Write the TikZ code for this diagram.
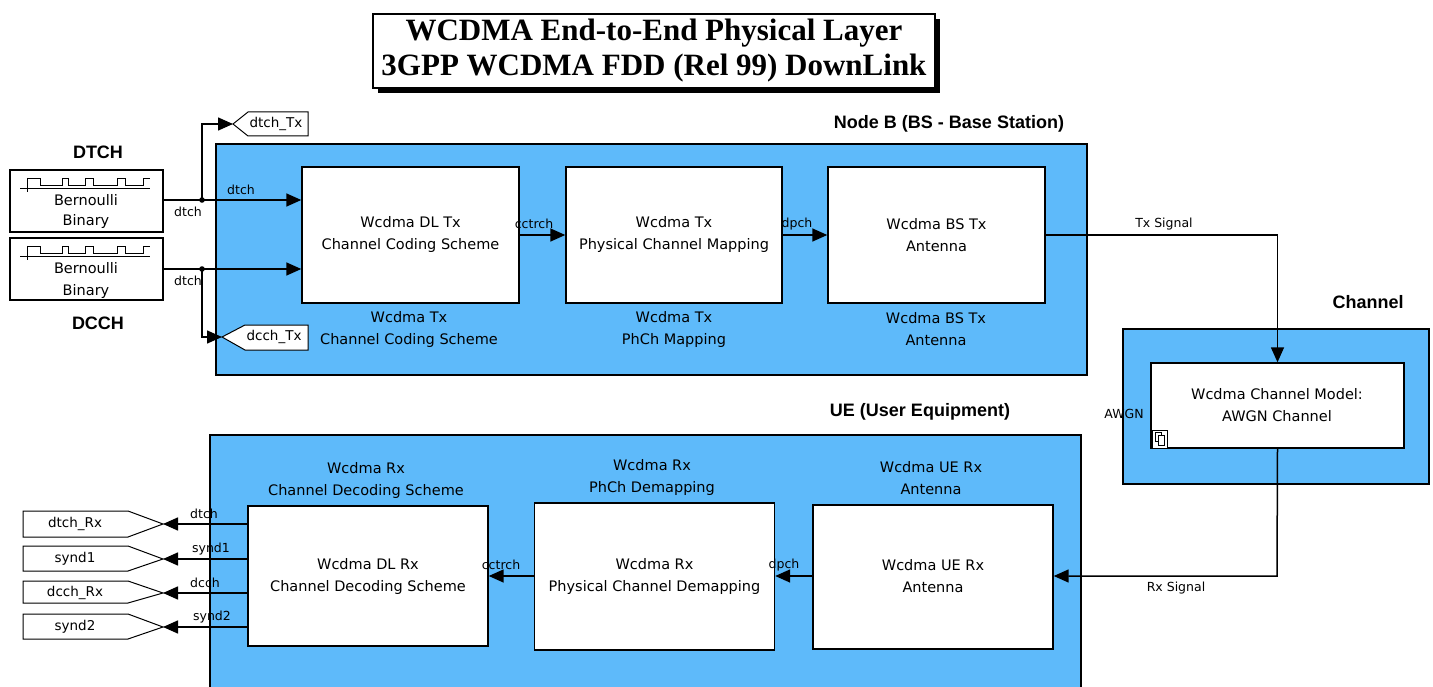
\documentclass[tikz,border=0pt]{standalone}
\usepackage{fontspec}
\setmainfont{DejaVu Sans}
\newfontfamily\hfont{Liberation Sans}
\newfontfamily\tfont{Liberation Serif}
\usetikzlibrary{arrows.meta}
\definecolor{blueB}{RGB}{94,186,250}
\begin{document}
\begin{tikzpicture}[x=1pt,y=-1pt,
  blk/.style={draw, fill=white, line width=1.4pt, inner sep=0pt},
  txt/.style={align=center, font=\fontsize{14.5}{22}\selectfont, inner sep=0pt},
  sml/.style={font=\fontsize{12.5}{14}\selectfont, inner sep=0pt},
  head/.style={font=\hfont\bfseries\fontsize{18}{20}\selectfont, inner sep=0pt},
  arr/.style={line width=1.5pt, -{Triangle[length=15pt,width=13pt]}},
  wire/.style={line width=1.5pt},
  region/.style={draw, fill=blueB, line width=1.4pt},
  tagshape/.style={draw, line width=1pt, fill=white},
  wave/.style={line width=1pt}]
\useasboundingbox (0,0) rectangle (1433,687);
\clip (0,0) rectangle (1433,687);

% ---------- title ----------
\fill[black] (378,19) rectangle (940,93);
\node[draw, fill=white, line width=1.4pt, minimum width=562pt, minimum height=74pt, inner sep=0pt] (title) at (654,51) {};
\node[font=\tfont\bfseries\fontsize{31}{35}\selectfont, align=center, inner sep=0pt] (titletxt) at (654,51) {WCDMA End-to-End Physical Layer\\3GPP WCDMA FDD (Rel 99) DownLink};

% ---------- region boxes ----------
\node[region, minimum width=871pt, minimum height=231pt, inner sep=0pt] (nodeB) at (651.5,259.5) {};
\node[region, minimum width=306pt, minimum height=155pt, inner sep=0pt] (chanreg) at (1276,406.5) {};
\node[region, minimum width=871pt, minimum height=270pt, inner sep=0pt] (uereg) at (645.5,570) {};

\node[head] (hNodeB) at (949,124) {Node B (BS - Base Station)};
\node[head] (hChan) at (1368,302) {Channel};
\node[head] (hUE) at (920,412) {UE (User Equipment)};
\node[head] (hDTCH) at (98,152) {DTCH};
\node[head] (hDCCH) at (98,323) {DCCH};

% ---------- sources ----------
\node[blk, minimum width=153pt, minimum height=62pt] (src1) at (86.5,201) {};
\node[blk, minimum width=153pt, minimum height=62pt] (src2) at (86.5,269) {};
\foreach \dy in {0,68}{
  \draw[wave, shift={(0,\dy)}] (20,189) -- (150,189);
  \draw[wave, shift={(0,\dy)}] (27,178) -- (27,192);
  \draw[wave, shift={(0,\dy)}] (27,179) -- (40,179) -- (40,186) -- (62,186) -- (62,179) -- (68,179) -- (68,186) -- (85,186) -- (85,179) -- (93,179) -- (93,186) -- (117,186) -- (117,179) -- (125,179) -- (125,186) -- (143,186) -- (143,179) -- (150,179);
}
\node[txt] (src1a) at (86,200) {Bernoulli};
\node[txt] (src1b) at (86,222) {Binary};
\node[txt] (src2a) at (86,268) {Bernoulli};
\node[txt] (src2b) at (86,291) {Binary};

% ---------- Tx blocks ----------
\node[blk, minimum width=217pt, minimum height=136pt] (cod) at (410.5,235) {};
\node[txt] (codt) at (410.5,235) {Wcdma DL Tx\\Channel Coding Scheme};
\node[txt] (codl) at (409,329) {Wcdma Tx\\Channel Coding Scheme};

\node[blk, minimum width=216pt, minimum height=136pt] (map) at (674,235) {};
\node[txt] (mapt) at (674,235) {Wcdma Tx\\Physical Channel Mapping};
\node[txt] (mapl) at (674,329) {Wcdma Tx\\PhCh Mapping};

\node[blk, minimum width=217pt, minimum height=136pt] (ant) at (936.5,235) {};
\node[txt] (antt) at (936.5,235) {Wcdma BS Tx\\Antenna};
\node[txt] (antl) at (936,329) {Wcdma BS Tx\\Antenna};

% ---------- goto tags (Tx) ----------
\coordinate (dtxtip) at (233,124);
\draw[tagshape] (dtxtip) -- (248,112) -- (308,112) -- (308,136) -- (248,136) -- cycle;
\node[txt, font=\fontsize{13.5}{16}\selectfont] (dtchTx) at (276,124) {dtch\_Tx};
\coordinate (dcxtip) at (222,337);
\draw[tagshape] (dcxtip) -- (245,325) -- (308,325) -- (308,350) -- (245,350) -- cycle;
\node[txt, font=\fontsize{13.5}{16}\selectfont] (dcchTx) at (274,337) {dcch\_Tx};

% ---------- Tx wiring ----------
\coordinate (j1) at (202,200);
\coordinate (j2) at (202,269);
\draw[arr] (src1.east |- j1) -- (cod.west |- j1);
\draw[arr] (src2.east |- j2) -- (cod.west |- j2);
\draw[arr] (j1) |- (dtxtip);
\draw[arr] (j2) |- (dcxtip);
\fill (j1) circle (2.8pt);
\fill (j2) circle (2.8pt);
\node[sml] (l1) at (241,190) {dtch};
\node[sml] (l2) at (188,212) {dtch};
\node[sml] (l3) at (188,281) {dtch};

\draw[arr] (cod.east) -- (map.west);
\node[sml] (l4) at (534,224) {cctrch};
\draw[arr] (map.east) -- (ant.west);
\node[sml] (l5) at (797,224) {dpch};

% ---------- channel ----------
\node[blk, minimum width=253pt, minimum height=85pt] (awgn) at (1277.5,405.5) {};
\node[txt] (awgnt) at (1277,405.5) {Wcdma Channel Model:\\AWGN Channel};
\node[sml] (awgnl) at (1124,414) {AWGN};
\node[draw, line width=0.8pt, fill=white, minimum width=15pt, minimum height=18pt, inner sep=0pt] (icon) at (1159.5,439) {};
\draw[line width=0.7pt] (1155,432) rectangle (1161,441);
\draw[line width=0.7pt, fill=white] (1158,435) rectangle (1164,445);

\draw[arr] (ant.east) -| (awgn.north);
\node[sml] (l6) at (1164,224) {Tx Signal};

% ---------- Rx blocks ----------
\node[blk, minimum width=240pt, minimum height=140pt] (dec) at (368,576) {};
\node[txt] (dect) at (368,576) {Wcdma DL Rx\\Channel Decoding Scheme};
\node[txt] (decl) at (366,480) {Wcdma Rx\\Channel Decoding Scheme};

\node[blk, minimum width=240pt, minimum height=147pt] (dmap) at (654.5,576.5) {};
\node[txt] (dmapt) at (654.5,576) {Wcdma Rx\\Physical Channel Demapping};
\node[txt] (dmapl) at (652,477) {Wcdma Rx\\PhCh Demapping};

\node[blk, minimum width=240pt, minimum height=144pt] (uant) at (933,577) {};
\node[txt] (uantt) at (933,576) {Wcdma UE Rx\\Antenna};
\node[txt] (uantl) at (931,478) {Wcdma UE Rx\\Antenna};

\coordinate (rxc) at (1277,576);
\draw[arr] (awgn.south) -- (rxc) -- (uant.east |- rxc);
\node[sml] (l7) at (1176,588) {Rx Signal};

\draw[arr] (uant.west |- rxc) -- (dmap.east |- rxc);
\node[sml] (l8) at (784,565) {dpch};
\draw[arr] (dmap.west |- rxc) -- (dec.east |- rxc);
\node[sml] (l9) at (501,565) {cctrch};

% ---------- goto tags (Rx) ----------
\foreach \n/\yt/\yb/\yc/\lab/\wl/\ll in {
   a/511/537/524/dtch\_Rx/dtch/204,
   b/546/571/559/synd1/synd1/211,
   c/581/603/593/dcch\_Rx/dcch/205,
   d/614/639/627/synd2/synd2/212}{
  \coordinate (rt\n) at (163,\yc);
  \draw[tagshape] (rt\n) -- (128,\yt) -- (23,\yt) -- (23,\yb) -- (128,\yb) -- cycle;
  \node[txt, font=\fontsize{13.5}{16}\selectfont] (rl\n) at (75,\yc) {\lab};
  \coordinate (rs\n) at (248,\yc);
  \draw[arr] (rs\n) -- (rt\n);
  \node[sml] (wl\n) at (\ll,\yc-10) {\wl};
}
\end{tikzpicture}
\end{document}
